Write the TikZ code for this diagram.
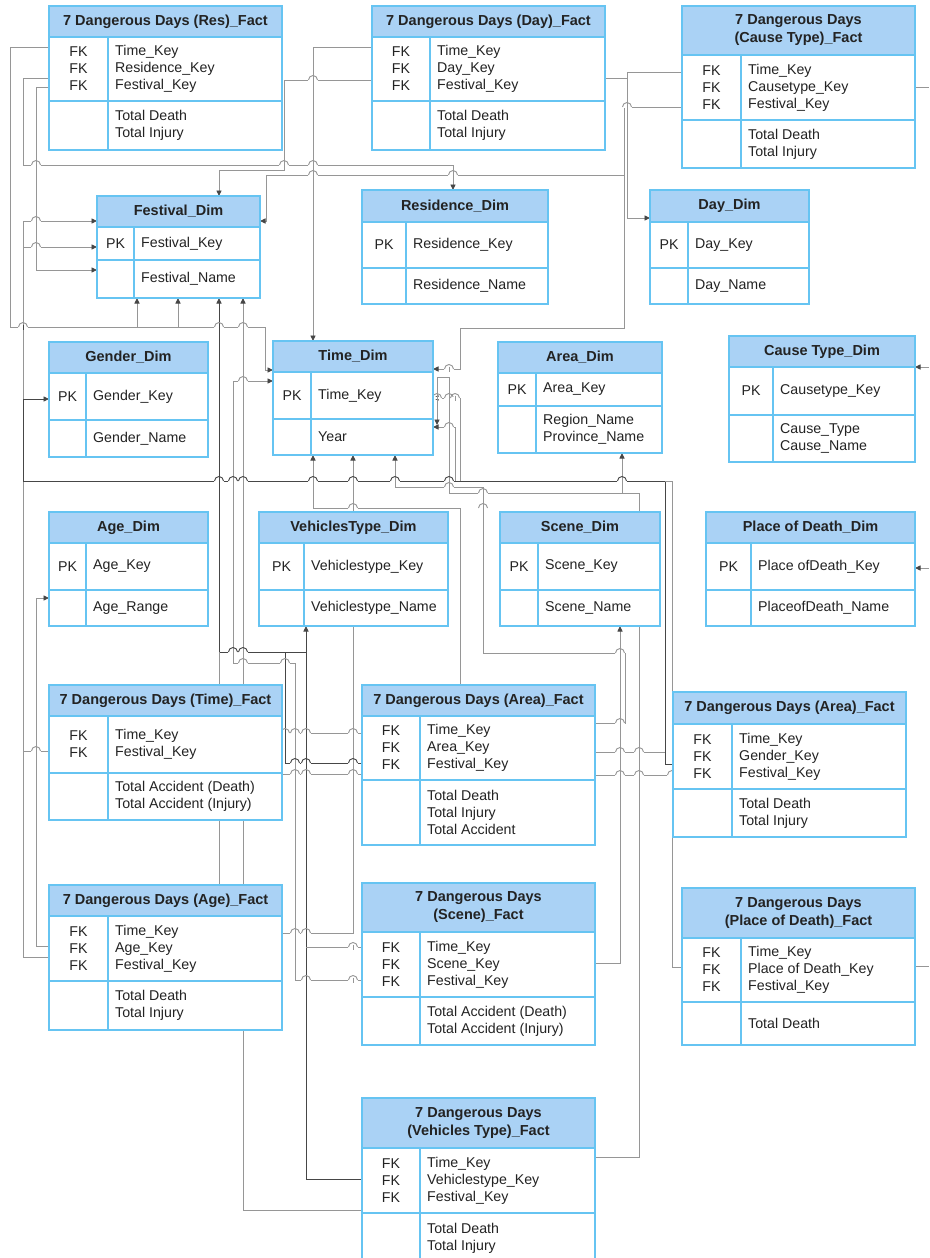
\documentclass[tikz,border=0pt]{standalone}
\usepackage{fontspec}
\newfontfamily\lsans{Liberation Sans}
\usetikzlibrary{arrows.meta}
\definecolor{boxblue}{RGB}{102,196,242}
\definecolor{headblue}{RGB}{170,210,245}
\definecolor{linegray}{RGB}{150,150,150}
\definecolor{linedark}{RGB}{70,70,70}
\definecolor{ink}{RGB}{35,35,35}
\pgfdeclarelayer{wires}
\pgfsetlayers{wires,main}
\newcommand\erheadfont{\lsans\bfseries\fontsize{14.5}{18}\selectfont}
\newcommand\erbodyfont{\lsans\fontsize{14.2}{17}\selectfont}
\tikzset{
  boxbody/.style={rectangle, fill=white, draw=none, inner sep=0pt, outer sep=0pt},
  rule/.style={draw=boxblue, line width=1.2pt},
  headtext/.style={font=\erheadfont, text=ink, align=center, inner sep=0pt},
  keytext/.style={font=\erbodyfont, text=ink, align=center, inner sep=0pt},
  fieldtext/.style={font=\erbodyfont, text=ink, align=left, inner sep=0pt, anchor=west},
  link/.style={draw=linegray, line width=0.9pt},
  darklink/.style={draw=linedark, line width=0.9pt},
  tip/.style={-{Triangle[length=5.5pt,width=5pt,color=linedark]}}
}
% table frame: name, x1, y1, x2, y2, header bottom, section divider, key column divider
\newcommand\erbox[8]{%
  \node[boxbody, minimum width={#4-#2}, minimum height={#5-#3}, anchor=north west] (#1) at (#2,#3) {};
  \fill[headblue] (#2,#3) rectangle (#4,#6);
  \draw[rule] (#2,#6) -- (#4,#6) (#2,#7) -- (#4,#7) (#8,#6) -- (#8,#5);
  \draw[rule] (#2,#3) rectangle (#4,#5);
}
% table title: name, x1, x2, y1, y2, text
\newcommand\erhead[6]{%
  \node[headtext] (#1) at ({(#2+#3)/2},{(#4+#5)/2}) {#6};
}
% table section: name, x1, key divider, top, bottom, key labels, field labels
\newcommand\ersec[7]{%
  \node[keytext] (#1-k) at ({(#2+#3)/2},{(#4+#5)/2}) {#6};
  \node[fieldtext] (#1-f) at ({#3+7},{(#4+#5)/2}) {#7};
}
% line jump where a horizontal connector crosses a vertical one:
% x, y, style of the horizontal line, style of the vertical line
\newcommand\hop[4]{%
  \fill[white] ({#1-4.7},{#2-1}) rectangle ({#1+4.7},{#2+1});
  \draw[#4] (#1,{#2-2.5}) -- (#1,{#2+2.5});
  \draw[#3] ({#1-4.5},#2) arc[start angle=180, end angle=0, radius=4.5pt];
}
\begin{document}
\begin{tikzpicture}[x=1pt, y=-1pt]
\useasboundingbox (0,0) rectangle (929,1258);
\begin{pgfonlayer}{wires}
  \fill[white] (0,0) rectangle (929,1258);
\end{pgfonlayer}

% ---------- fact tables, top row ----------
\erbox{tres}{49}{6}{282}{150}{37}{101}{108}
\erhead{tres-h}{49}{282}{6}{37}{7 Dangerous Days (Res)\_Fact}
\ersec{tres-a}{49}{108}{37}{101}{FK\\FK\\FK}{Time\_Key\\Residence\_Key\\Festival\_Key}
\ersec{tres-b}{49}{108}{101}{150}{}{Total Death\\Total Injury}

\erbox{tday}{372}{6}{605}{150}{37}{101}{430}
\erhead{tday-h}{372}{605}{6}{37}{7 Dangerous Days (Day)\_Fact}
\ersec{tday-a}{372}{430}{37}{101}{FK\\FK\\FK}{Time\_Key\\Day\_Key\\Festival\_Key}
\ersec{tday-b}{372}{430}{101}{150}{}{Total Death\\Total Injury}

\erbox{tcause}{682}{6}{915}{168}{55}{120}{741}
\erhead{tcause-h}{682}{915}{6}{55}{7 Dangerous Days\\(Cause Type)\_Fact}
\ersec{tcause-a}{682}{741}{55}{120}{FK\\FK\\FK}{Time\_Key\\Causetype\_Key\\Festival\_Key}
\ersec{tcause-b}{682}{741}{120}{168}{}{Total Death\\Total Injury}

% ---------- dimension tables ----------
\erbox{dfest}{97}{196}{260}{298}{227}{260}{134}
\erhead{dfest-h}{97}{260}{196}{227}{Festival\_Dim}
\ersec{dfest-a}{97}{134}{227}{260}{PK}{Festival\_Key}
\ersec{dfest-b}{97}{134}{260}{298}{}{Festival\_Name}

\erbox{dres}{362}{190}{548}{304}{222}{268}{406}
\erhead{dres-h}{362}{548}{190}{222}{Residence\_Dim}
\ersec{dres-a}{362}{406}{222}{268}{PK}{Residence\_Key}
\ersec{dres-b}{362}{406}{268}{304}{}{Residence\_Name}

\erbox{dday}{650}{190}{809}{304}{222}{268}{688}
\erhead{dday-h}{650}{809}{190}{222}{Day\_Dim}
\ersec{dday-a}{650}{688}{222}{268}{PK}{Day\_Key}
\ersec{dday-b}{650}{688}{268}{304}{}{Day\_Name}

\erbox{dgender}{49}{342}{208}{457}{373}{420}{86}
\erhead{dgender-h}{49}{208}{342}{373}{Gender\_Dim}
\ersec{dgender-a}{49}{86}{373}{420}{PK}{Gender\_Key}
\ersec{dgender-b}{49}{86}{420}{457}{}{Gender\_Name}

\erbox{dtime}{273}{341}{433}{455}{372}{419}{311}
\erhead{dtime-h}{273}{433}{341}{372}{Time\_Dim}
\ersec{dtime-a}{273}{311}{372}{419}{PK}{Time\_Key}
\ersec{dtime-b}{273}{311}{419}{455}{}{Year}

\erbox{darea}{498}{342}{662}{453}{373}{406}{536}
\erhead{darea-h}{498}{662}{342}{373}{Area\_Dim}
\ersec{darea-a}{498}{536}{373}{406}{PK}{Area\_Key}
\ersec{darea-b}{498}{536}{406}{453}{}{Region\_Name\\Province\_Name}

\erbox{dcause}{729}{336}{915}{462}{367}{415}{773}
\erhead{dcause-h}{729}{915}{336}{367}{Cause Type\_Dim}
\ersec{dcause-a}{729}{773}{367}{415}{PK}{Causetype\_Key}
\ersec{dcause-b}{729}{773}{415}{462}{}{Cause\_Type\\Cause\_Name}

\erbox{dage}{49}{512}{208}{626}{543}{590}{86}
\erhead{dage-h}{49}{208}{512}{543}{Age\_Dim}
\ersec{dage-a}{49}{86}{543}{590}{PK}{Age\_Key}
\ersec{dage-b}{49}{86}{590}{626}{}{Age\_Range}

\erbox{dveh}{259}{512}{448}{626}{543}{590}{304}
\erhead{dveh-h}{259}{448}{512}{543}{VehiclesType\_Dim}
\ersec{dveh-a}{259}{304}{543}{590}{PK}{Vehiclestype\_Key}
\ersec{dveh-b}{259}{304}{590}{626}{}{Vehiclestype\_Name}

\erbox{dscene}{500}{512}{660}{626}{543}{590}{538}
\erhead{dscene-h}{500}{660}{512}{543}{Scene\_Dim}
\ersec{dscene-a}{500}{538}{543}{590}{PK}{Scene\_Key}
\ersec{dscene-b}{500}{538}{590}{626}{}{Scene\_Name}

\erbox{dplace}{706}{512}{915}{626}{543}{590}{751}
\erhead{dplace-h}{706}{915}{512}{543}{Place of Death\_Dim}
\ersec{dplace-a}{706}{751}{543}{590}{PK}{Place ofDeath\_Key}
\ersec{dplace-b}{706}{751}{590}{626}{}{PlaceofDeath\_Name}

% ---------- fact tables, lower part ----------
\erbox{ftime}{49}{685}{282}{820}{716}{773}{108}
\erhead{ftime-h}{49}{282}{685}{716}{7 Dangerous Days (Time)\_Fact}
\ersec{ftime-a}{49}{108}{716}{773}{FK\\FK}{Time\_Key\\Festival\_Key}
\ersec{ftime-b}{49}{108}{773}{820}{}{Total Accident (Death)\\Total Accident (Injury)}

\erbox{farea}{362}{685}{595}{845}{716}{780}{420}
\erhead{farea-h}{362}{595}{685}{716}{7 Dangerous Days (Area)\_Fact}
\ersec{farea-a}{362}{420}{716}{780}{FK\\FK\\FK}{Time\_Key\\Area\_Key\\Festival\_Key}
\ersec{farea-b}{362}{420}{780}{845}{}{Total Death\\Total Injury\\Total Accident}

\erbox{fgender}{673}{692}{906}{837}{724}{789}{732}
\erhead{fgender-h}{673}{906}{692}{724}{7 Dangerous Days (Area)\_Fact}
\ersec{fgender-a}{673}{732}{724}{789}{FK\\FK\\FK}{Time\_Key\\Gender\_Key\\Festival\_Key}
\ersec{fgender-b}{673}{732}{789}{837}{}{Total Death\\Total Injury}

\erbox{fage}{49}{885}{282}{1030}{916}{981}{108}
\erhead{fage-h}{49}{282}{885}{916}{7 Dangerous Days (Age)\_Fact}
\ersec{fage-a}{49}{108}{916}{981}{FK\\FK\\FK}{Time\_Key\\Age\_Key\\Festival\_Key}
\ersec{fage-b}{49}{108}{981}{1030}{}{Total Death\\Total Injury}

\erbox{fscene}{362}{883}{595}{1045}{932}{997}{420}
\erhead{fscene-h}{362}{595}{883}{932}{7 Dangerous Days\\(Scene)\_Fact}
\ersec{fscene-a}{362}{420}{932}{997}{FK\\FK\\FK}{Time\_Key\\Scene\_Key\\Festival\_Key}
\ersec{fscene-b}{362}{420}{997}{1045}{}{Total Accident (Death)\\Total Accident (Injury)}

\erbox{fplace}{682}{888}{915}{1045}{938}{1002}{741}
\erhead{fplace-h}{682}{915}{888}{938}{7 Dangerous Days\\(Place of Death)\_Fact}
\ersec{fplace-a}{682}{741}{938}{1002}{FK\\FK\\FK}{Time\_Key\\Place of Death\_Key\\Festival\_Key}
\ersec{fplace-b}{682}{741}{1002}{1045}{}{Total Death}

\erbox{fveh}{362}{1098}{595}{1264}{1148}{1213}{420}
\erhead{fveh-h}{362}{595}{1098}{1148}{7 Dangerous Days\\(Vehicles Type)\_Fact}
\ersec{fveh-a}{362}{420}{1148}{1213}{FK\\FK\\FK}{Time\_Key\\Vehiclestype\_Key\\Festival\_Key}
\ersec{fveh-b}{362}{420}{1213}{1264}{}{Total Death\\Total Injury}

% ---------- connectors (behind the tables) ----------
\coordinate (offA) at (929,87);
\coordinate (offB) at (929,367);
\coordinate (offC) at (929,568);
\coordinate (offD) at (929,966);
\coordinate (busL) at (460,481);
\coordinate (busP) at (455,481);
\coordinate (busR) at (137,327);
\coordinate (busS) at (178,327);
\coordinate (busV) at (622,493);
\coordinate (busG) at (665,481);
\coordinate (timeDn) at (437,425);

\begin{pgfonlayer}{wires}
  % Res fact
  \draw[link,tip] (tres.west |- 0,47) -- (10,47) -- (10,327) -- (265,327) -- (265,370) -- (dtime.west |- 0,370);
  \draw[link,tip] (tres.west |- 0,78) -- (23,78) -- (23,165) -- (453,165) -- (dres.north -| 453,0);
  \draw[link,tip] (tres.west |- 0,87) -- (36,87) -- (36,270) -- (dfest.west |- 0,270);
  \draw[link,tip] (busR) -- (dfest.south -| 137,0);
  \draw[link,tip] (busS) -- (dfest.south -| 178,0);
  % Day fact
  \draw[link,tip] (tday.west |- 0,47) -- (313,47) -- (dtime.north -| 313,0);
  \draw[link,tip] (tday.west |- 0,80) -- (284,80) -- (284,170) -- (219,170) -- (dfest.north -| 219,0);
  \draw[link,tip] (tday.east |- 0,78) -- (627,78) -- (627,218) -- (dday.west |- 0,218);
  % Cause type fact
  \draw[link] (tcause.west |- 0,72) -- (627,72) -- (627,80);
  \draw[link,tip] (tcause.west |- 0,107) -- (624,107) -- (624,175) -- (266,175) -- (266,221) -- (dfest.east |- 0,221);
  \draw[link,tip] (624,175) -- (624,328) -- (460,328) -- (460,369) -- (dtime.east |- 0,369);
  \draw[link] (tcause.east |- 0,87) -- (offA);
  \draw[link,tip] (offB) -- (dcause.east |- 0,367);
  \draw[link,tip] (offC) -- (dplace.east |- 0,568);
  % Time and Age facts
  \draw[link,tip] (ftime.west |- 0,751) -- (23,751) -- (23,221) -- (dfest.west |- 0,221);
  \draw[link,tip] (fage.west |- 0,957) -- (23,957) -- (23,247) -- (dfest.west |- 0,247);
  \draw[link,tip] (fage.west |- 0,946) -- (36,946) -- (36,598) -- (dage.west |- 0,598);
  \draw[link,tip] (fage.east |- 0,933) -- (353,933) -- (dtime.south -| 353,0);
  % Gender (area) and place of death facts
  \draw[darklink,tip] (fgender.west |- 0,764) -- (665,764) -- (busG) -- (23,481) -- (23,399) -- (dgender.west |- 0,399);
  \draw[link,tip] (busL) -- (460,398) -- (dtime.east |- 0,398);
  \draw[link] (fplace.west |- 0,967) -- (672,967) -- (672,481) -- (busG);
  \draw[link,tip] (busP) -- (455,427) -- (dtime.east |- 0,427);
  \draw[link] (fplace.east |- 0,966) -- (offD);
  % Vehicles fact
  \draw[link,tip] (fveh.east |- 0,1157) -- (639,1157) -- (639,493) -- (449,493) -- (449,377) -- (437,377) -- (timeDn);
  \draw[link,tip] (busV) -- (darea.south -| 622,0);
  \draw[link,tip] (fveh.west |- 0,1210) -- (243,1210) -- (dfest.south -| 243,0);
  \draw[darklink,tip] (fveh.west |- 0,1179) -- (306,1179) -- (dveh.south -| 306,0);
  % Area fact
  \draw[link,tip] (farea.north -| 460,0) -- (460,508) -- (313,508) -- (dtime.south -| 313,0);
  \draw[link,tip] (farea.east |- 0,723) -- (625,723) -- (625,653) -- (483,653) -- (483,487) -- (395,487) -- (dtime.south -| 395,0);
  \draw[darklink,tip] (farea.west |- 0,763) -- (285,763) -- (285,652) -- (219,652) -- (dfest.south -| 219,0);
  \draw[darklink] (285,652) -- (306,652);
  \draw[link] (219,652) -- (fage.north -| 219,0);
  \draw[link] (ftime.east |- 0,733) -- (farea.west |- 0,733);
  \draw[link] (ftime.east |- 0,774) -- (farea.west |- 0,774);
  \draw[link] (farea.east |- 0,752) -- (665,752);
  \draw[link] (farea.east |- 0,775) -- (fgender.west |- 0,775);
  % Scene fact
  \draw[link,tip] (fscene.east |- 0,963) -- (620,963) -- (dscene.south -| 620,0);
  \draw[link] (fscene.west |- 0,947) -- (306,947);
  \draw[link,tip] (fscene.west |- 0,980) -- (295,980) -- (295,663) -- (233,663) -- (233,381) -- (dtime.west |- 0,381);

  % line jumps at crossings
  \hop{36}{165}{link}{link} \hop{284}{165}{link}{link} \hop{313}{165}{link}{link}
  \hop{313}{175}{link}{link} \hop{453}{175}{link}{link}
  \hop{313}{80}{link}{link} \hop{627}{107}{link}{link}
  \hop{36}{221}{link}{link} \hop{36}{247}{link}{link}
  \hop{23}{327}{link}{darklink} \hop{219}{327}{link}{darklink} \hop{243}{327}{link}{link}
  \hop{219}{481}{darklink}{darklink} \hop{233}{481}{darklink}{link} \hop{243}{481}{darklink}{link}
  \hop{313}{481}{darklink}{link} \hop{353}{481}{darklink}{link} \hop{395}{481}{darklink}{link}
  \hop{449}{481}{darklink}{link} \hop{622}{481}{darklink}{link}
  \hop{449}{487}{link}{link} \hop{483}{493}{link}{link}
  \hop{353}{508}{link}{link} \hop{483}{508}{link}{link}
  \hop{449}{369}{link}{link} \hop{243}{381}{link}{link}
  \hop{449}{398}{link}{link} \hop{455}{398}{link}{link} \hop{437}{398}{link}{link}
  \hop{449}{427}{link}{link}
  \hop{233}{652}{darklink}{link} \hop{243}{652}{darklink}{link}
  \hop{620}{653}{link}{link}
  \hop{243}{663}{link}{link} \hop{285}{663}{link}{darklink}
  \hop{620}{723}{link}{link}
  \hop{285}{733}{link}{darklink} \hop{295}{733}{link}{link} \hop{306}{733}{link}{darklink} \hop{353}{733}{link}{link}
  \hop{36}{751}{link}{link}
  \hop{620}{752}{link}{link} \hop{639}{752}{link}{link}
  \hop{295}{763}{darklink}{link} \hop{306}{763}{darklink}{darklink} \hop{353}{763}{darklink}{link}
  \hop{295}{774}{link}{link} \hop{306}{774}{link}{darklink} \hop{353}{774}{link}{link}
  \hop{620}{775}{link}{link} \hop{639}{775}{link}{link} \hop{672}{775}{link}{link}
  \hop{295}{933}{link}{link} \hop{306}{933}{link}{darklink}
  \hop{353}{947}{link}{link}
  \hop{306}{980}{link}{darklink} \hop{353}{980}{link}{link}
\end{pgfonlayer}
\end{tikzpicture}
\end{document}
